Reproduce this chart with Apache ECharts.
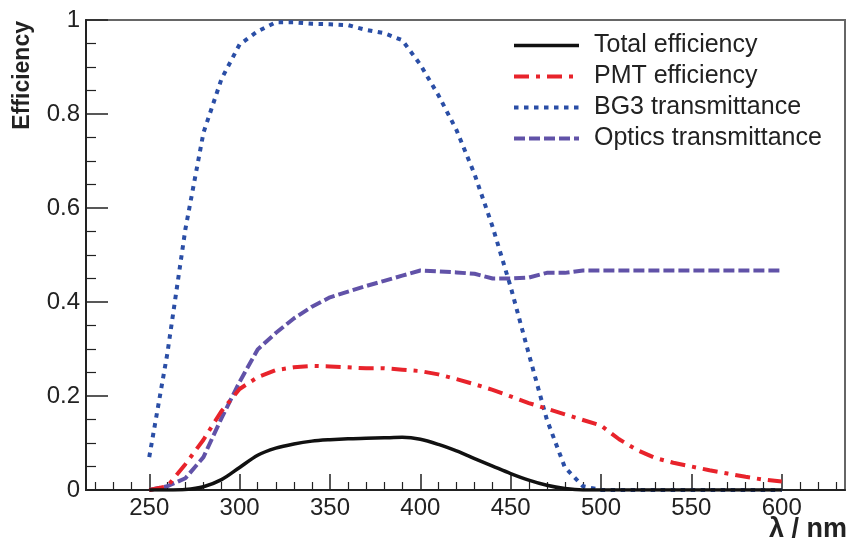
<!DOCTYPE html>
<html>
<head>
<meta charset="utf-8">
<script src="https://cdn.jsdelivr.net/npm/echarts@6/dist/echarts.min.js"></script>
<style>
html,body{margin:0;padding:0;background:#fff;}
#chart{width:850px;height:542px;}
</style>
</head>
<body>
<div id="chart"></div>
<script>
// wavelength (nm)
var wavelengths = [250,260,270,280,290,300,310,320,330,340,350,360,370,380,390,400,410,420,430,440,450,460,470,480,490,500,510,520,530,540,550,560,570,580,590,600];
var totalEff = [0,0,0.001,0.007,0.022,0.048,0.074,0.089,0.098,0.104,0.107,0.109,0.110,0.111,0.112,0.108,0.097,0.083,0.067,0.051,0.035,0.021,0.010,0.003,0,0,0,0,0,0,0,0,0,0,0,0];
var pmtEff = [0,0.008,0.055,0.107,0.168,0.215,0.240,0.255,0.261,0.264,0.263,0.261,0.259,0.259,0.256,0.253,0.246,0.236,0.225,0.213,0.199,0.185,0.173,0.161,0.149,0.137,0.108,0.085,0.068,0.058,0.050,0.042,0.035,0.028,0.022,0.018];
var bg3Trans = [0.07,0.29,0.555,0.76,0.875,0.948,0.976,0.995,0.995,0.992,0.991,0.989,0.979,0.972,0.957,0.905,0.84,0.766,0.672,0.56,0.432,0.29,0.15,0.048,0.008,0,0,0,0,0,0,0,0,0,0,0];
var opticsTrans = [0,0.008,0.025,0.07,0.153,0.23,0.299,0.334,0.365,0.39,0.41,0.422,0.434,0.445,0.456,0.467,0.465,0.463,0.46,0.45,0.45,0.452,0.462,0.462,0.467,0.467,0.467,0.467,0.467,0.467,0.467,0.467,0.467,0.467,0.467,0.467];
var seriesNames = ['Total efficiency','PMT efficiency','BG3 transmittance','Optics transmittance'];
var xMajorTicks = [250,300,350,400,450,500,550,600];
var xMinorTicks = [220,230,240,260,270,280,290,310,320,330,340,360,370,380,390,410,420,430,440,460,470,480,490,510,520,530,540,560,570,580,590,610,620,630];
var xRange = [215,635];
var yRange = [0,1];

function pairs(vals){ return wavelengths.map(function(w,i){ return [w, vals[i]]; }); }

var FONT = '"Liberation Sans", Arial, Helvetica, sans-serif';
var chart = echarts.init(document.getElementById('chart'), null, {renderer:'canvas'});
var styles = [
  {color:'#111111', width:3.5, type:'solid'},
  {color:'#e8232b', width:4, type:[15,7,4,7]},
  {color:'#2a4ea6', width:4, type:[4.5,5.5]},
  {color:'#6152a8', width:4, type:[11,4]}
];
var dataSets = [totalEff, pmtEff, bg3Trans, opticsTrans];

var option = {
  animation:false,
  backgroundColor:'#ffffff',
  grid:{left:86, right:5, top:20, bottom:52, show:true, borderColor:'#666', borderWidth:2, containLabel:false},
  legend:{
    orient:'vertical', left:507, top:28, itemWidth:65, itemHeight:20, itemGap:6,
    textStyle:{fontFamily:FONT, fontSize:25, color:'#222', lineHeight:24, padding:[0,0,0,10]},
    data: seriesNames.map(function(n,i){ return {name:n, itemStyle:{opacity:0, color:'transparent', borderWidth:0}, lineStyle:{width:styles[i].width, type:styles[i].type, color:styles[i].color}}; })
  },
  xAxis:[{
    type:'value', min:xRange[0], max:xRange[1],
    axisLine:{show:true, onZero:false, lineStyle:{color:'#222', width:2}},
    axisTick:{show:true, inside:true, length:16, customValues:xMajorTicks, lineStyle:{color:'#222', width:1.5}},
    axisLabel:{show:true, customValues:xMajorTicks, margin:6, fontFamily:FONT, fontSize:24, color:'#222'},
    splitLine:{show:false}
  },{
    type:'value', min:xRange[0], max:xRange[1], position:'bottom',
    axisLine:{show:false},
    axisTick:{show:true, inside:true, length:8, customValues:xMinorTicks, lineStyle:{color:'#222', width:1.2}},
    axisLabel:{show:false},
    splitLine:{show:false}
  }],
  yAxis:{
    type:'value', min:yRange[0], max:yRange[1], interval:0.2,
    axisLine:{show:true, onZero:false, lineStyle:{color:'#222', width:2}},
    axisTick:{show:true, inside:true, length:22, lineStyle:{color:'#222', width:1.5}},
    minorTick:{show:true, splitNumber:4, length:10, lineStyle:{color:'#222', width:1.2}},
    axisLabel:{margin:6, fontFamily:FONT, fontSize:24, color:'#222'},
    splitLine:{show:false}
  },
  graphic:[
    {type:'text', x:34, y:21, rotation:Math.PI/2, style:{text:'Efficiency', font:'bold 23px '+FONT, fill:'#222', textAlign:'right', textVerticalAlign:'bottom'}},
    {type:'text', x:847, y:530, style:{text:'λ / nm', font:'bold 27px '+FONT, fill:'#222', textAlign:'right', textVerticalAlign:'middle'}}
  ],
  series: seriesNames.map(function(n,i){
    return {
      name:n, type:'line', xAxisIndex:0, yAxisIndex:0, symbol:'none', showSymbol:false,
      data:pairs(dataSets[i]),
      lineStyle:{color:styles[i].color, width:styles[i].width, type:styles[i].type},
      itemStyle:{color:styles[i].color},
      smooth: i===0 ? 0.3 : false,
      z: 10 - i
    };
  })
};
chart.setOption(option);
</script>
</body>
</html>
